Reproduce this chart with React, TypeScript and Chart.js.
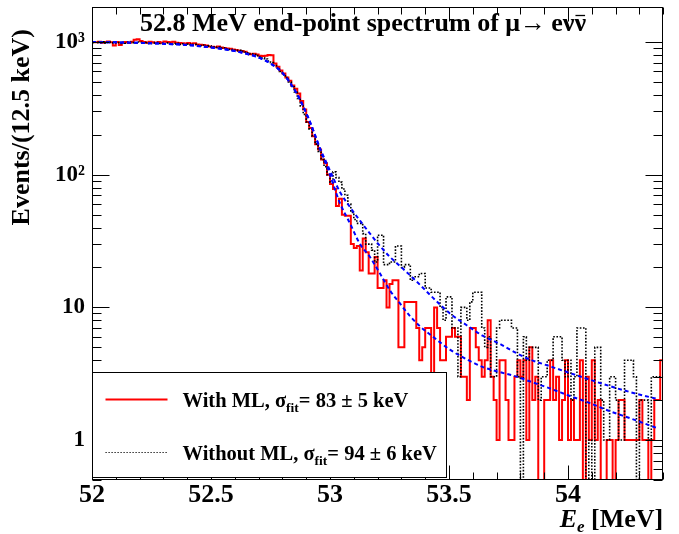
import React, { useEffect, useRef } from "react";
import { Chart, registerables } from "chart.js";

Chart.register(...registerables);

// ---------------- data ----------------
const E_MIN = 52.0;
const E_MAX = 54.4;
const BIN_WIDTH = 0.0125; // 12.5 keV
const Y_MIN = 0.5;
const Y_MAX = 1850;
const ZERO_FLOOR = 0.3; // empty bins are drawn below the axis minimum

// Events per 12.5 keV bin, "With ML" (red, solid)
const withML: number[] = [
  1000, 995, 1005, 990, 1000, 1010, 995, 940, 1000, 950,
  990, 1000, 985, 1005, 1040, 1050, 1020, 1000, 990, 1005,
  995, 985, 1000, 990, 1010, 1000, 995, 1005, 990, 985,
  980, 975, 985, 970, 980, 960, 955, 950, 940, 925,
  920, 915, 925, 910, 900, 895, 890, 880, 870, 860,
  855, 845, 820, 810, 815, 805, 790, 785, 790, 800,
  795, 690, 650, 610, 580, 540, 510, 470, 445, 410,
  360, 310, 250, 225, 195, 170, 155, 130, 122, 100,
  85, 78, 58, 66, 50, 49, 49, 30, 28, 29,
  19, 33, 26, 18, 18, 24, 14, 14, 16, 10,
  15, 16, 16, 5, 5, 11, 11, 11, 11, 7,
  4, 5, 7, 7, 3, 10, 7, 4, 4, 6,
  6, 7, 6, 6, 3, 3, 2, 7, 7, 5,
  4, 3, 4, 8, 3, 2, 1, 4, 4, 2,
  1, 1, 3, 4, 3, 4, 1, 5, 2, 3,
  0, 0, 2, 2, 4, 2, 3, 1, 2, 4,
  1, 2, 1, 1, 4, 0, 3, 1, 4, 1,
  2, 0, 0, 1, 1, 0, 1, 2, 2, 1,
  1, 1, 1, 1, 2, 1, 1, 0, 1, 2,
  2, 4,
];

// Events per 12.5 keV bin, "Without ML" (black, dotted)
const withoutML: number[] = [
  985, 1000, 990, 1005, 980, 995, 1000, 985, 990, 975,
  995, 980, 1000, 990, 985, 1000, 995, 980, 990, 975,
  985, 990, 975, 980, 970, 985, 975, 965, 980, 960,
  970, 955, 965, 950, 960, 945, 940, 950, 930, 935,
  920, 910, 915, 900, 905, 890, 880, 875, 860, 865,
  850, 840, 830, 815, 805, 790, 775, 760, 745, 720,
  700, 665, 640, 600, 570, 540, 500, 460, 420, 375,
  330, 285, 250, 220, 195, 170, 150, 130, 115, 100,
  88, 105, 95, 88, 78, 70, 60, 52, 46, 43,
  43, 36, 30, 30, 27, 22, 35, 35, 21, 21,
  22, 22, 29, 29, 20, 21, 21, 16, 17, 17,
  18, 18, 14, 14, 13, 13, 13, 10, 8, 12,
  12, 7, 7, 3, 10, 10, 8, 11, 13, 13,
  13, 7, 5, 6, 3, 3, 7, 8, 8, 8,
  8, 7, 7, 3, 0, 6, 4, 5, 5, 5,
  2, 3, 3, 4, 4, 6, 6, 6, 4, 3,
  4, 2, 3, 7, 7, 7, 0, 1, 0, 5,
  5, 2, 1, 1, 3, 3, 2, 1, 1, 4,
  4, 4, 3, 0, 2, 2, 2, 1, 3, 3,
  3, 3,
];

// Fit curves (blue dashed), sampled along E
const fitEnergy: number[] = [
  52.0, 52.1, 52.2, 52.3, 52.4, 52.5, 52.55, 52.6, 52.65, 52.7,
  52.75, 52.8, 52.85, 52.88, 52.91, 52.93, 52.96, 52.99, 53.013, 53.042,
  53.084, 53.126, 53.168, 53.21, 53.252, 53.294, 53.336, 53.378, 53.433, 53.504,
  53.576, 53.643, 53.714, 53.786, 53.832, 53.924, 54.008, 54.092, 54.176, 54.261,
  54.38,
];
const fitWithoutML: number[] = [
  1000, 995, 985, 970, 950, 910, 885, 855, 815, 765,
  690, 585, 440, 350, 265, 215, 155, 118, 95, 74,
  57, 45, 36, 29, 24, 20.5, 17.5, 14.8, 11.8, 9,
  7.3, 6.1, 5.3, 4.5, 4.1, 3.6, 3.2, 2.85, 2.55, 2.3,
  2.03,
];
const fitWithML: number[] = [
  1000, 995, 985, 970, 950, 910, 885, 855, 815, 765,
  690, 585, 440, 350, 265, 215, 153, 112, 85, 61,
  43, 30, 24, 18, 13.4, 10.7, 8.6, 7.2, 6, 4.8,
  4.05, 3.55, 3.25, 3.0, 2.8, 2.45, 2.15, 1.9, 1.65, 1.46,
  1.22,
];

const xTicks: number[] = [52, 52.5, 53, 53.5, 54];
const xTickLabels: string[] = ["52", "52.5", "53", "53.5", "54"];
const yTicks: number[] = [1, 10, 100, 1000];
const yTickLabels: string[] = ["1", "10", "10\u00B2", "10\u00B3"];

const titleText = "52.8 MeV end-point spectrum of \u03BC\u2192\u2009e\u03BD\u03BD";
const yTitle = "Events/(12.5 keV)";
const legendWith = ["With ML, \u03C3", "fit", "= 83 \u00B1 5 keV"];
const legendWithout = ["Without ML, \u03C3", "fit", "= 94 \u00B1 6 keV"];

// ---------------- helpers ----------------
const SERIF = '"Liberation Serif", "Times New Roman", Times, serif';
const fnt = (size: number, italic = false) =>
  `${italic ? "italic " : ""}bold ${size}px ${SERIF}`;

function histPoints(counts: number[]) {
  const pts = counts.map((c, k) => ({
    x: E_MIN + k * BIN_WIDTH,
    y: c > 0 ? c : ZERO_FLOOR,
  }));
  pts.push({ x: E_MIN + counts.length * BIN_WIDTH, y: pts[pts.length - 1].y });
  return pts;
}

type Run = { text: string; font: string; dy?: number };
function drawRuns(
  ctx: CanvasRenderingContext2D,
  x: number,
  y: number,
  runs: Run[],
  align: "left" | "right" | "center"
) {
  const widths = runs.map((r) => {
    ctx.font = r.font;
    return ctx.measureText(r.text).width;
  });
  const total = widths.reduce((a, b) => a + b, 0);
  let cx = align === "left" ? x : align === "right" ? x - total : x - total / 2;
  const start = cx;
  ctx.textAlign = "left";
  ctx.textBaseline = "alphabetic";
  runs.forEach((r, i) => {
    ctx.font = r.font;
    ctx.fillText(r.text, cx, y + (r.dy || 0));
    cx += widths[i];
  });
  return start;
}

const TITLE_SIZE = 26;
const LEGEND_SIZE = 20.5;

const rootDecor = {
  id: "rootDecor",
  afterDatasetsDraw(chart: any) {
    const { ctx, chartArea: a, scales } = chart;
    const xs = scales.x;
    const ys = scales.y;
    ctx.save();
    ctx.strokeStyle = "#000";
    ctx.fillStyle = "#000";
    ctx.lineWidth = 1;
    ctx.setLineDash([]);

    const L = Math.round(a.left) + 0.5;
    const R = Math.round(a.right) - 0.5;
    const T = Math.round(a.top) + 0.5;
    const B = Math.round(a.bottom) - 0.5;

    // x ticks (inward, bottom and top)
    for (let i = 0; i <= 24; i++) {
      const v = E_MIN + i * 0.1;
      if (v > E_MAX + 1e-9) break;
      const px = Math.round(xs.getPixelForValue(v)) + 0.5;
      const len = i % 5 === 0 ? 14 : 7;
      ctx.beginPath();
      ctx.moveTo(px, B);
      ctx.lineTo(px, B - len);
      ctx.moveTo(px, T);
      ctx.lineTo(px, T + len);
      ctx.stroke();
    }
    // y ticks (log, inward, left and right)
    for (let d = -1; d <= 3; d++) {
      for (let m = 1; m <= 9; m++) {
        const v = m * Math.pow(10, d);
        if (v < Y_MIN - 1e-9 || v > Y_MAX) continue;
        const py = Math.round(ys.getPixelForValue(v)) + 0.5;
        const len = m === 1 ? 17 : 9;
        ctx.beginPath();
        ctx.moveTo(L, py);
        ctx.lineTo(L + len, py);
        ctx.moveTo(R, py);
        ctx.lineTo(R - len, py);
        ctx.stroke();
      }
    }
    // frame
    ctx.strokeRect(L, T, R - L, B - T);

    // legend box
    const lx0 = L;
    const ly0 = B - 107;
    const lx1 = L + 354;
    const ly1 = B - 2;
    ctx.fillStyle = "#fff";
    ctx.fillRect(lx0, ly0, lx1 - lx0, ly1 - ly0);
    ctx.strokeStyle = "#000";
    ctx.strokeRect(lx0, ly0, lx1 - lx0, ly1 - ly0);

    // legend entries
    ctx.strokeStyle = "#ff0000";
    ctx.lineWidth = 2;
    ctx.beginPath();
    ctx.moveTo(lx0 + 13, ly0 + 27);
    ctx.lineTo(lx0 + 75, ly0 + 27);
    ctx.stroke();
    ctx.strokeStyle = "#000";
    ctx.lineWidth = 1.2;
    ctx.setLineDash([1.2, 1.8]);
    ctx.beginPath();
    ctx.moveTo(lx0 + 13, ly0 + 80);
    ctx.lineTo(lx0 + 75, ly0 + 80);
    ctx.stroke();
    ctx.setLineDash([]);

    ctx.fillStyle = "#000";
    drawRuns(
      ctx,
      lx0 + 90,
      ly0 + 34,
      [
        { text: legendWith[0], font: fnt(LEGEND_SIZE) },
        { text: legendWith[1], font: fnt(13.5), dy: 5 },
        { text: legendWith[2], font: fnt(LEGEND_SIZE) },
      ],
      "left"
    );
    drawRuns(
      ctx,
      lx0 + 90,
      ly0 + 87,
      [
        { text: legendWithout[0], font: fnt(LEGEND_SIZE) },
        { text: legendWithout[1], font: fnt(13.5), dy: 5 },
        { text: legendWithout[2], font: fnt(LEGEND_SIZE) },
      ],
      "left"
    );

    // title with anti-neutrino bar
    const baseY = 31;
    const tStart = drawRuns(ctx, 363, baseY, [{ text: titleText, font: fnt(TITLE_SIZE) }], "center");
    ctx.font = fnt(TITLE_SIZE);
    const wPre = ctx.measureText(titleText.slice(0, -1)).width;
    const wNu = ctx.measureText("\u03BD").width;
    ctx.strokeStyle = "#000";
    ctx.lineWidth = 1.3;
    const barY = Math.round(baseY - 0.46 * TITLE_SIZE - 4) + 0.5;
    ctx.beginPath();
    ctx.moveTo(tStart + wPre + 1, barY);
    ctx.lineTo(tStart + wPre + wNu - 1, barY);
    ctx.stroke();

    // x axis title E_e [MeV]
    drawRuns(
      ctx,
      a.right,
      527,
      [
        { text: "E", font: fnt(26, true) },
        { text: "e", font: fnt(17, true), dy: 5 },
        { text: " [MeV]", font: fnt(26) },
      ],
      "right"
    );

    // y axis title
    ctx.save();
    ctx.translate(22, 29);
    ctx.rotate(-Math.PI / 2);
    ctx.font = fnt(26);
    ctx.textAlign = "right";
    ctx.textBaseline = "middle";
    ctx.fillText(yTitle, 0, 0);
    ctx.restore();

    ctx.restore();
  },
};

export default function App() {
  const ref = useRef<HTMLCanvasElement | null>(null);

  useEffect(() => {
    if (!ref.current) return;
    const chart = new Chart(ref.current, {
      type: "line",
      data: {
        datasets: [
          {
            label: "With ML fit",
            data: fitEnergy.map((e, i) => ({ x: e, y: fitWithML[i] })),
            borderColor: "#0000ff",
            borderWidth: 2,
            borderDash: [4, 3],
            pointRadius: 0,
            cubicInterpolationMode: "monotone",
            fill: false,
            order: 1,
            clip: 0,
          } as any,
          {
            label: "Without ML fit",
            data: fitEnergy.map((e, i) => ({ x: e, y: fitWithoutML[i] })),
            borderColor: "#0000ff",
            borderWidth: 2,
            borderDash: [4, 3],
            pointRadius: 0,
            cubicInterpolationMode: "monotone",
            fill: false,
            order: 2,
            clip: 0,
          } as any,
          {
            label: "Without ML",
            data: histPoints(withoutML),
            borderColor: "#000000",
            borderWidth: 1.6,
            borderDash: [1.6, 1.6],
            stepped: "before",
            pointRadius: 0,
            fill: false,
            order: 3,
            clip: 0,
          } as any,
          {
            label: "With ML",
            data: histPoints(withML),
            borderColor: "#ff0000",
            borderWidth: 2,
            stepped: "before",
            pointRadius: 0,
            fill: false,
            order: 4,
            clip: 0,
          } as any,
        ],
      },
      options: {
        animation: false,
        responsive: true,
        maintainAspectRatio: false,
        layout: { padding: { top: 6.6, right: 15.8, left: 0, bottom: 0 } },
        plugins: {
          legend: { display: false },
          tooltip: { enabled: false },
          title: { display: false },
        },
        scales: {
          x: {
            type: "linear",
            min: E_MIN,
            max: E_MAX,
            grid: { display: false, drawTicks: false },
            border: { display: false },
            ticks: {
              color: "#000",
              font: { family: SERIF, size: 26, weight: "bold" },
              padding: 0,
              maxRotation: 0,
              autoSkip: false,
              callback: (_v: any, i: number) => xTickLabels[i],
            },
            afterBuildTicks: (s: any) => {
              s.ticks = xTicks.map((v) => ({ value: v }));
            },
            afterFit: (s: any) => {
              s.height = 54;
              s.paddingLeft = 0;
              s.paddingRight = 0;
            },
          },
          y: {
            type: "logarithmic",
            min: Y_MIN,
            max: Y_MAX,
            grid: { display: false, drawTicks: false },
            border: { display: false },
            ticks: {
              color: "#000",
              font: { family: SERIF, size: 23, weight: "bold" },
              padding: 7,
              autoSkip: false,
              callback: (_v: any, i: number) => yTickLabels[i],
            },
            afterBuildTicks: (s: any) => {
              s.ticks = yTicks.map((v) => ({ value: v }));
            },
            afterFit: (s: any) => {
              s.width = 92;
              s.paddingTop = 0;
              s.paddingBottom = 0;
            },
          },
        },
      } as any,
      plugins: [rootDecor],
    });
    return () => chart.destroy();
  }, []);

  return (
    <div
      style={{
        position: "absolute",
        left: 0,
        top: 0,
        width: 679,
        height: 534,
        background: "#fff",
      }}
    >
      <canvas ref={ref} />
    </div>
  );
}
